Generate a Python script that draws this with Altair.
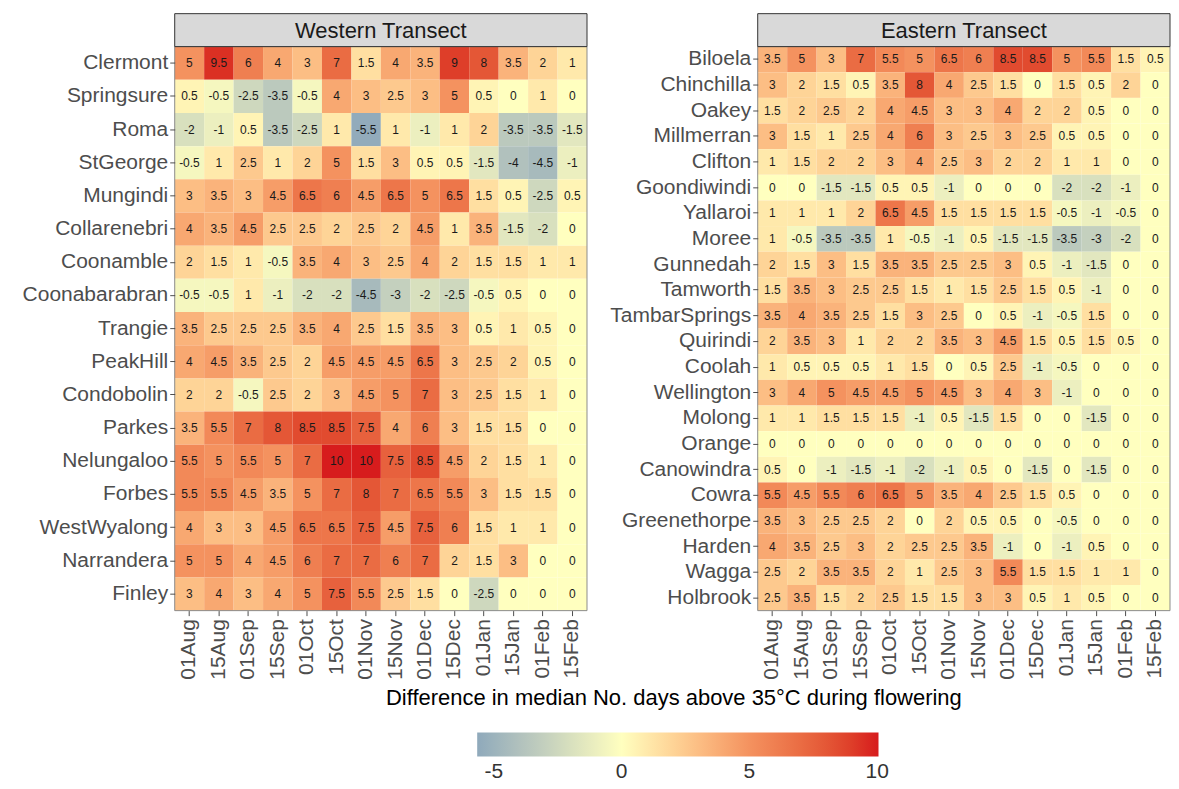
import altair as alt
import pandas as pd

dates = ["01Aug", "15Aug", "01Sep", "15Sep", "01Oct", "15Oct", "01Nov",
         "15Nov", "01Dec", "15Dec", "01Jan", "15Jan", "01Feb", "15Feb"]

west_sites = ["Clermont", "Springsure", "Roma", "StGeorge", "Mungindi", "Collarenebri",
              "Coonamble", "Coonabarabran", "Trangie", "PeakHill", "Condobolin", "Parkes",
              "Nelungaloo", "Forbes", "WestWyalong", "Narrandera", "Finley"]
west_values = [
    [5, 9.5, 6, 4, 3, 7, 1.5, 4, 3.5, 9, 8, 3.5, 2, 1],
    [0.5, -0.5, -2.5, -3.5, -0.5, 4, 3, 2.5, 3, 5, 0.5, 0, 1, 0],
    [-2, -1, 0.5, -3.5, -2.5, 1, -5.5, 1, -1, 1, 2, -3.5, -3.5, -1.5],
    [-0.5, 1, 2.5, 1, 2, 5, 1.5, 3, 0.5, 0.5, -1.5, -4, -4.5, -1],
    [3, 3.5, 3, 4.5, 6.5, 6, 4.5, 6.5, 5, 6.5, 1.5, 0.5, -2.5, 0.5],
    [4, 3.5, 4.5, 2.5, 2.5, 2, 2.5, 2, 4.5, 1, 3.5, -1.5, -2, 0],
    [2, 1.5, 1, -0.5, 3.5, 4, 3, 2.5, 4, 2, 1.5, 1.5, 1, 1],
    [-0.5, -0.5, 1, -1, -2, -2, -4.5, -3, -2, -2.5, -0.5, 0.5, 0, 0],
    [3.5, 2.5, 2.5, 2.5, 3.5, 4, 2.5, 1.5, 3.5, 3, 0.5, 1, 0.5, 0],
    [4, 4.5, 3.5, 2.5, 2, 4.5, 4.5, 4.5, 6.5, 3, 2.5, 2, 0.5, 0],
    [2, 2, -0.5, 2.5, 2, 3, 4.5, 5, 7, 3, 2.5, 1.5, 1, 0],
    [3.5, 5.5, 7, 8, 8.5, 8.5, 7.5, 4, 6, 3, 1.5, 1.5, 0, 0],
    [5.5, 5, 5.5, 5, 7, 10, 10, 7.5, 8.5, 4.5, 2, 1.5, 1, 0],
    [5.5, 5.5, 4.5, 3.5, 5, 7, 8, 7, 6.5, 5.5, 3, 1.5, 1.5, 0],
    [4, 3, 3, 4.5, 6.5, 6.5, 7.5, 4.5, 7.5, 6, 1.5, 1, 1, 0],
    [5, 5, 4, 4.5, 6, 7, 7, 6, 7, 2, 1.5, 3, 0, 0],
    [3, 4, 3, 4, 5, 7.5, 5.5, 2.5, 1.5, 0, -2.5, 0, 0, 0],
]

east_sites = ["Biloela", "Chinchilla", "Oakey", "Millmerran", "Clifton", "Goondiwindi",
              "Yallaroi", "Moree", "Gunnedah", "Tamworth", "TambarSprings", "Quirindi",
              "Coolah", "Wellington", "Molong", "Orange", "Canowindra", "Cowra",
              "Greenethorpe", "Harden", "Wagga", "Holbrook"]
east_values = [
    [3.5, 5, 3, 7, 5.5, 5, 6.5, 6, 8.5, 8.5, 5, 5.5, 1.5, 0.5],
    [3, 2, 1.5, 0.5, 3.5, 8, 4, 2.5, 1.5, 0, 1.5, 0.5, 2, 0],
    [1.5, 2, 2.5, 2, 4, 4.5, 3, 3, 4, 2, 2, 0.5, 0, 0],
    [3, 1.5, 1, 2.5, 4, 6, 3, 2.5, 3, 2.5, 0.5, 0.5, 0, 0],
    [1, 1.5, 2, 2, 3, 4, 2.5, 3, 2, 2, 1, 1, 0, 0],
    [0, 0, -1.5, -1.5, 0.5, 0.5, -1, 0, 0, 0, -2, -2, -1, 0],
    [1, 1, 1, 2, 6.5, 4.5, 1.5, 1.5, 1.5, 1.5, -0.5, -1, -0.5, 0],
    [1, -0.5, -3.5, -3.5, 1, -0.5, -1, 0.5, -1.5, -1.5, -3.5, -3, -2, 0],
    [2, 1.5, 3, 1.5, 3.5, 3.5, 2.5, 2.5, 3, 0.5, -1, -1.5, 0, 0],
    [1.5, 3.5, 3, 2.5, 2.5, 1.5, 1, 1.5, 2.5, 1.5, 0.5, -1, 0, 0],
    [3.5, 4, 3.5, 2.5, 1.5, 3, 2.5, 0, 0.5, -1, -0.5, 1.5, 0, 0],
    [2, 3.5, 3, 1, 2, 2, 3.5, 3, 4.5, 1.5, 0.5, 1.5, 0.5, 0],
    [1, 0.5, 0.5, 0.5, 1, 1.5, 0, 0.5, 2.5, -1, -0.5, 0, 0, 0],
    [3, 4, 5, 4.5, 4.5, 5, 4.5, 3, 4, 3, -1, 0, 0, 0],
    [1, 1, 1.5, 1.5, 1.5, -1, 0.5, -1.5, 1.5, 0, 0, -1.5, 0, 0],
    [0, 0, 0, 0, 0, 0, 0, 0, 0, 0, 0, 0, 0, 0],
    [0.5, 0, -1, -1.5, -1, -2, -1, 0.5, 0, -1.5, 0, -1.5, 0, 0],
    [5.5, 4.5, 5.5, 6, 6.5, 5, 3.5, 4, 2.5, 1.5, 0.5, 0, 0, 0],
    [3.5, 3, 2.5, 2.5, 2, 0, 2, 0.5, 0.5, 0, -0.5, 0, 0, 0],
    [4, 3.5, 2.5, 3, 2, 2.5, 2.5, 3.5, -1, 0, -1, 0.5, 0, 0],
    [2.5, 2, 3.5, 3.5, 2, 1, 2.5, 3, 5.5, 1.5, 1.5, 1, 1, 0],
    [2.5, 3.5, 1.5, 2, 2.5, 1.5, 1.5, 3, 3, 0.5, 1, 0.5, 0, 0],
]

color_domain = [-5.65, 0, 5, 10.05]
color_range = ["#8fa9bb", "#ffffbf", "#f4925f", "#d7191c"]
legend_values = [-5, 0, 5, 10]
x_title = "Difference in median No. days above 35°C during flowering"


def to_frame(sites, values):
    rows = []
    for s, vals in zip(sites, values):
        for d, v in zip(dates, vals):
            rows.append({"site": s, "date": d, "value": v, "label": f"{v:g}"})
    return pd.DataFrame(rows)


W, H = 413, 565
STRIP = 33
WEST_EXT = 167

legend = alt.Legend(
    orient="none", legendX=303, legendY=687, direction="horizontal",
    title=None, gradientLength=402, gradientThickness=24,
    values=legend_values, labelFontSize=21, labelColor="#333333",
    labelAlign="center", labelOffset=5, gradientStrokeWidth=0,
    labelExpr="toString(datum.value)",
)


def panel(sites, values, title, extent):
    df = to_frame(sites, values)
    base = alt.Chart(df)
    xenc = alt.X("date:N", sort=dates,
                 scale=alt.Scale(paddingInner=0, paddingOuter=0),
                 axis=alt.Axis(title=None, labelAngle=-90, labelFontSize=21,
                               labelColor="#4d4d4d", tickColor="#4d4d4d",
                               tickSize=5, labelPadding=3, domain=False, grid=False))
    yenc = alt.Y("site:N", sort=sites,
                 scale=alt.Scale(paddingInner=0, paddingOuter=0),
                 axis=alt.Axis(title=None, labelFontSize=21, labelColor="#4d4d4d",
                               tickColor="#4d4d4d", tickSize=5, labelPadding=2,
                               domain=False, grid=False,
                               minExtent=extent, maxExtent=extent))
    heat = base.mark_rect().encode(
        x=xenc, y=yenc,
        color=alt.Color("value:Q",
                        scale=alt.Scale(domain=color_domain, range=color_range,
                                        interpolate="lab"),
                        legend=legend),
    )
    text = base.mark_text(fontSize=12, color="#1a1a1a").encode(
        x=xenc, y=yenc, text="label:N")
    sdf = pd.DataFrame({"t": [title]})
    border = alt.Chart(sdf).mark_rect(fillOpacity=0, stroke="#8c8c8c",
                                      strokeWidth=1).encode(
        x=alt.value(0), x2=alt.value(W), y=alt.value(0), y2=alt.value(H))
    strip = alt.Chart(sdf).mark_rect(fill="#d9d9d9", stroke="#333333",
                                     strokeWidth=1).encode(
        x=alt.value(0), x2=alt.value(W), y=alt.value(-STRIP), y2=alt.value(0))
    strip_text = alt.Chart(sdf).mark_text(fontSize=22, color="#1a1a1a",
                                          baseline="middle").encode(
        x=alt.value(W / 2), y=alt.value(-STRIP / 2 + 1), text="t:N")
    return alt.layer(heat, text, border, strip, strip_text).properties(width=W, height=H)


west = panel(west_sites, west_values, "Western Transect", WEST_EXT)
east = panel(east_sites, east_values, "Eastern Transect", 165)

top = alt.hconcat(west, east, spacing=5)

bottom = alt.Chart(pd.DataFrame({"t": [x_title]})).mark_text(
    fontSize=22, color="#000000", baseline="middle").encode(
    x=alt.value(675 - 8 - WEST_EXT), y=alt.value(10), text="t:N"
).properties(width=980, height=20)

chart = alt.vconcat(top, bottom, spacing=8).resolve_scale(color="shared").properties(
    padding={"left": 0, "top": 4, "right": 0, "bottom": 0}
).configure(font="Liberation Sans").configure_view(stroke=None)

chart.save("out.html", embed_options={"renderer": "svg", "actions": False})
